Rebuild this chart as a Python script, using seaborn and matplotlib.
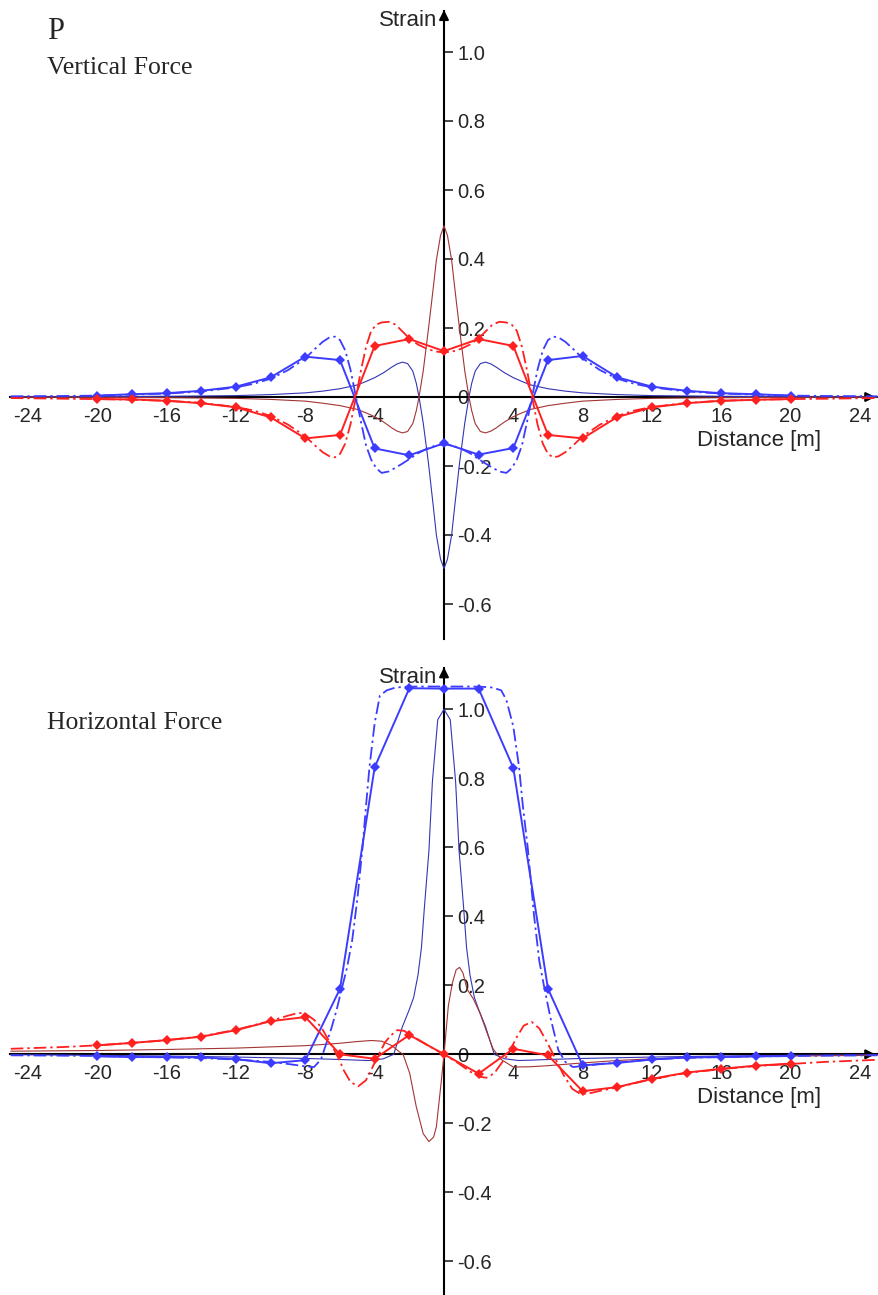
import matplotlib
matplotlib.use("Agg")
import matplotlib.pyplot as plt
import seaborn as sns

# ---------------- data ----------------
# nodes with markers, every 2 m
node_x = [-20, -18, -16, -14, -12, -10, -8, -6, -4, -2, 0, 2, 4, 6, 8, 10, 12, 14, 16, 18, 20]

# Vertical force: measured points
vert_blue_pts = [0.004, 0.008, 0.011, 0.018, 0.030, 0.057, 0.117, 0.107, -0.149, -0.169, -0.134,
                 -0.167, -0.148, 0.107, 0.119, 0.057, 0.030, 0.018, 0.011, 0.008, 0.004]
vert_red_pts = [-0.006, -0.007, -0.011, -0.018, -0.030, -0.059, -0.120, -0.110, 0.148, 0.168, 0.133,
                0.168, 0.148, -0.110, -0.120, -0.058, -0.030, -0.018, -0.011, -0.008, -0.006]

# Vertical force: dash-dot model curves
vert_dd_x = [-25, -22, -20, -18, -16, -14, -12, -11, -10, -9, -8, -7.5, -7, -6.6, -6.3, -6, -5.7, -5.4,
             -5.1, -4.8, -4.5, -4.2, -3.9, -3.6, -3.2, -2.8, -2.4, -2, -1.5, -1, -0.5, 0,
             0.5, 1, 1.5, 2, 2.4, 2.8, 3.2, 3.6, 3.9, 4.2, 4.5, 4.8, 5.1, 5.4, 5.7, 6, 6.3, 6.6,
             7, 7.5, 8, 9, 10, 11, 12, 14, 16, 18, 20, 22, 25]
vert_blue_dd = [0.002, 0.003, 0.004, 0.007, 0.010, 0.016, 0.028, 0.038, 0.053, 0.078, 0.112, 0.137,
                0.160, 0.173, 0.175, 0.165, 0.135, 0.080, 0.005, -0.070, -0.140, -0.182, -0.207,
                -0.220, -0.216, -0.205, -0.193, -0.180, -0.163, -0.150, -0.141, -0.137,
                -0.141, -0.150, -0.163, -0.180, -0.193, -0.205, -0.216, -0.220, -0.207, -0.182,
                -0.140, -0.070, 0.005, 0.080, 0.135, 0.165, 0.175, 0.173, 0.160, 0.137, 0.112,
                0.078, 0.053, 0.038, 0.028, 0.016, 0.010, 0.007, 0.004, 0.003, 0.002]
vert_red_dd = [-0.003, -0.005, -0.006, -0.008, -0.011, -0.017, -0.029, -0.039, -0.055, -0.080, -0.114,
               -0.138, -0.160, -0.172, -0.175, -0.165, -0.135, -0.080, -0.005, 0.075, 0.145, 0.192,
               0.210, 0.216, 0.218, 0.210, 0.190, 0.170, 0.152, 0.140, 0.132, 0.129,
               0.132, 0.140, 0.152, 0.170, 0.190, 0.210, 0.218, 0.216, 0.210, 0.192, 0.145, 0.075,
               -0.005, -0.080, -0.135, -0.165, -0.175, -0.172, -0.160, -0.138, -0.114, -0.080,
               -0.055, -0.039, -0.029, -0.017, -0.011, -0.008, -0.006, -0.005, -0.003]

# Vertical force: thin curves
vert_thin_x = [-25, -20, -16, -12, -10, -8, -7, -6, -5, -4.5, -4, -3.5, -3, -2.7, -2.4, -2.1, -1.8,
               -1.6, -1.44, -1.2, -0.9, -0.6, -0.44, -0.2, 0, 0.2, 0.44, 0.6, 0.9, 1.2, 1.44, 1.6,
               1.8, 2.1, 2.4, 2.7, 3, 3.5, 4, 4.5, 5, 6, 7, 8, 10, 12, 16, 20, 25]
vert_navy = [0.000, 0.001, 0.002, 0.004, 0.007, 0.012, 0.017, 0.024, 0.035, 0.045, 0.056, 0.070,
             0.087, 0.096, 0.101, 0.097, 0.075, 0.040, 0.000, -0.075, -0.190, -0.325, -0.400,
             -0.470, -0.497, -0.470, -0.400, -0.325, -0.190, -0.075, 0.000, 0.040, 0.075, 0.097,
             0.101, 0.096, 0.087, 0.070, 0.056, 0.045, 0.035, 0.024, 0.017, 0.012, 0.007, 0.004,
             0.002, 0.001, 0.000]
vert_brown = [0.000, -0.001, -0.002, -0.004, -0.007, -0.012, -0.018, -0.025, -0.036, -0.046, -0.057,
              -0.072, -0.090, -0.099, -0.104, -0.100, -0.077, -0.040, 0.000, 0.075, 0.196, 0.325,
              0.397, 0.468, 0.496, 0.468, 0.397, 0.325, 0.196, 0.075, 0.000, -0.040, -0.077,
              -0.100, -0.104, -0.099, -0.090, -0.072, -0.057, -0.046, -0.036, -0.025, -0.018,
              -0.012, -0.007, -0.004, -0.002, -0.001, 0.000]

# Horizontal force: measured points
horiz_blue_pts = [-0.006, -0.008, -0.008, -0.009, -0.014, -0.026, -0.017, 0.190, 0.832, 1.061, 1.060,
                  1.060, 0.830, 0.190, -0.032, -0.025, -0.015, -0.009, -0.008, -0.006, -0.005]
horiz_red_pts = [0.026, 0.033, 0.041, 0.051, 0.070, 0.096, 0.108, 0.000, -0.013, 0.056, 0.000,
                 -0.056, 0.016, -0.003, -0.107, -0.095, -0.071, -0.053, -0.042, -0.033, -0.027]

# Horizontal force: dash-dot model curves
horiz_blue_dd_x = [-25, -22, -20, -18, -16, -14, -12, -10, -9, -8, -7.5, -7.1, -6.8, -6.5, -6.2, -5.9,
                   -5.6, -5.3, -5.0, -4.7, -4.5, -4.3, -4.0, -3.7, -3.3, -2.8, -2.3, -1.5, 0, 1.5,
                   2.3, 2.8, 3.3, 3.6, 4.0, 4.33, 4.55, 4.83, 5.2, 5.5, 5.8, 6.13, 6.6, 7.0, 7.44,
                   8, 9, 10, 12, 14, 16, 18, 20, 22, 25]
horiz_blue_dd = [-0.003, -0.004, -0.005, -0.007, -0.009, -0.011, -0.015, -0.022, -0.028, -0.035,
                 -0.037, -0.015, 0.030, 0.075, 0.128, 0.190, 0.250, 0.330, 0.450, 0.600, 0.720,
                 0.833, 0.960, 1.040, 1.055, 1.063, 1.065, 1.066, 1.066, 1.066, 1.065, 1.063,
                 1.055, 1.027, 0.950, 0.833, 0.720, 0.600, 0.400, 0.270, 0.190, 0.109, 0.012,
                 -0.022, -0.037, -0.034, -0.028, -0.024, -0.015, -0.010, -0.008, -0.006, -0.005,
                 -0.004, -0.003]
horiz_red_dd_x = [-25, -22, -20, -18, -16, -14, -12, -10, -9, -8.4, -8, -7.5, -7.1, -6.7, -6.33, -6.0,
                  -5.8, -5.4, -4.95, -4.5, -4.2, -3.83, -3.4, -3.06, -2.7, -2.3, -2.0, -1.4, -0.8,
                  0, 0.8, 1.5, 2.07, 2.45, 2.9, 3.4, 3.7, 4.2, 4.6, 5.06, 5.5, 6.0, 6.3, 6.9, 7.4,
                  7.9, 8.5, 9, 10, 12, 14, 16, 18, 20, 22, 25]
horiz_red_dd = [0.016, 0.021, 0.026, 0.033, 0.041, 0.052, 0.071, 0.097, 0.112, 0.120, 0.118, 0.100,
                0.080, 0.045, 0.012, -0.020, -0.045, -0.080, -0.093, -0.075, -0.045, -0.007, 0.035,
                0.055, 0.070, 0.068, 0.058, 0.040, 0.022, 0.000, -0.025, -0.050, -0.065, -0.068,
                -0.055, -0.020, 0.000, 0.050, 0.083, 0.094, 0.075, 0.030, 0.000, -0.060, -0.100,
                -0.116, -0.112, -0.106, -0.096, -0.072, -0.054, -0.043, -0.034, -0.028, -0.022,
                -0.016]

# Horizontal force: thin curves
horiz_navy_x = [-25, -20, -16, -12, -10, -8, -6, -5, -4.3, -3.5, -2.9, -2.4, -2.0, -1.75, -1.5, -1.3,
                -1.14, -0.87, -0.67, -0.36, 0, 0.36, 0.67, 0.87, 1.14, 1.3, 1.5, 1.75, 2.0, 2.4,
                2.9, 3.5, 4.3, 5, 6, 8, 10, 12, 16, 20, 25]
horiz_navy = [-0.001, -0.003, -0.005, -0.008, -0.010, -0.012, -0.015, -0.017, -0.018, -0.013, 0.000,
              0.080, 0.130, 0.165, 0.230, 0.310, 0.420, 0.590, 0.790, 0.970, 1.000, 0.970, 0.790,
              0.590, 0.420, 0.310, 0.230, 0.165, 0.130, 0.080, 0.000, -0.013, -0.018, -0.017,
              -0.015, -0.012, -0.010, -0.008, -0.005, -0.003, -0.001]
horiz_brown_x = [-25, -20, -16, -12, -8, -6, -5, -4.2, -3.6, -3.0, -2.6, -2.36, -1.98, -1.6, -1.2,
                 -0.87, -0.6, -0.44, -0.15, 0, 0.25, 0.48, 0.7, 0.9, 1.1, 1.32, 1.7, 2.07, 2.5,
                 2.84, 3.3, 4.0, 5, 6, 8, 10, 12, 16, 20, 25]
horiz_brown = [0.009, 0.011, 0.014, 0.018, 0.025, 0.032, 0.037, 0.040, 0.038, 0.025, 0.008, 0.000,
               -0.055, -0.152, -0.230, -0.253, -0.240, -0.210, -0.075, 0.000, 0.140, 0.206, 0.245,
               0.252, 0.235, 0.190, 0.160, 0.120, 0.060, 0.015, -0.015, -0.037, -0.036, -0.033,
               -0.025, -0.018, -0.013, -0.008, -0.005, -0.003]

x_ticks = [-24, -20, -16, -12, -8, -4, 0, 4, 8, 12, 16, 20, 24]
y_ticks = [-0.6, -0.4, -0.2, 0.0, 0.2, 0.4, 0.6, 0.8, 1.0]

# ---------------- styling ----------------
sns.set_style("white")
plt.rcParams["font.family"] = ["Liberation Sans", "DejaVu Sans"]
plt.rcParams["axes.unicode_minus"] = False

BLUE = "#3c3cff"
RED = "#ff2020"
NAVY = "#3535b5"
BROWN = "#a33535"
DASHDOT = (0, (7, 2.2, 1.3, 2.2))

W, H = 879, 1295
SPLIT = 650
X_PER_M = 17.33
Y_PER_UNIT = 345.0
X0_PX = 444

fig = plt.figure(figsize=(W / 100, H / 100), dpi=100)


def make_panel(top_px, bot_px, zero_px):
    ax = fig.add_axes([0, 1 - bot_px / H, 1, (bot_px - top_px) / H])
    ax.set_xlim(-X0_PX / X_PER_M, (W - X0_PX) / X_PER_M)
    ax.set_ylim((zero_px - bot_px) / Y_PER_UNIT, (zero_px - top_px) / Y_PER_UNIT)
    ax.patch.set_alpha(0)
    for s in ["left", "top"]:
        ax.spines[s].set_visible(False)
    ax.spines["bottom"].set_position(("data", 0))
    ax.spines["right"].set_position(("data", 0))
    ax.spines["bottom"].set_bounds(-25.05, 25.0)
    ax.spines["right"].set_bounds(-0.70, 1.12)
    for s in ["bottom", "right"]:
        ax.spines[s].set_linewidth(1.5)
        ax.spines[s].set_color("black")
        ax.spines[s].set_zorder(1)
    ax.yaxis.tick_right()
    ax.set_xticks(x_ticks, [("" if t == 0 else str(t)) for t in x_ticks])
    ax.set_yticks(y_ticks, [("0" if t == 0 else f"{t:.1f}") for t in y_ticks])
    ax.tick_params(axis="x", direction="in", length=6.5, width=1.2, pad=7, labelsize=14.5)
    ax.tick_params(axis="y", direction="out", length=6.5, width=1.2, pad=3, labelsize=14.5)
    ax.grid(False)
    # arrow heads
    ax.annotate("", xy=(25.05, 0), xytext=(24.3, 0),
                arrowprops=dict(arrowstyle="-|>", color="black", lw=1.5, mutation_scale=14))
    ax.annotate("", xy=(0, 1.13), xytext=(0, 1.09),
                arrowprops=dict(arrowstyle="-|>", color="black", lw=1.5, mutation_scale=14))
    ax.text(-0.4, 1.075, "Strain", ha="right", va="baseline", fontsize=16)
    ax.text(14.6, -0.125, "Distance [m]", ha="left", va="center", fontsize=16)
    return ax


def draw_line(ax, x, y, color, lw, ls="-", marker=None):
    sns.lineplot(x=x, y=y, ax=ax, color=color, lw=lw, linestyle=ls, marker=marker,
                 markersize=5, markeredgewidth=0, sort=False, estimator=None, zorder=3)


ax1 = make_panel(0, SPLIT, 397)
draw_line(ax1, vert_thin_x, vert_navy, NAVY, 0.8)
draw_line(ax1, vert_thin_x, vert_brown, BROWN, 0.8)
draw_line(ax1, vert_dd_x, vert_blue_dd, BLUE, 1.3, DASHDOT)
draw_line(ax1, vert_dd_x, vert_red_dd, RED, 1.3, DASHDOT)
draw_line(ax1, node_x, vert_blue_pts, BLUE, 1.4, "-", "D")
draw_line(ax1, node_x, vert_red_pts, RED, 1.4, "-", "D")

ax2 = make_panel(SPLIT, H, 1054.3)
draw_line(ax2, horiz_navy_x, horiz_navy, NAVY, 0.8)
draw_line(ax2, horiz_brown_x, horiz_brown, BROWN, 0.8)
draw_line(ax2, horiz_blue_dd_x, horiz_blue_dd, BLUE, 1.3, DASHDOT)
draw_line(ax2, horiz_red_dd_x, horiz_red_dd, RED, 1.3, DASHDOT)
draw_line(ax2, node_x, horiz_blue_pts, BLUE, 1.4, "-", "D")
draw_line(ax2, node_x, horiz_red_pts, RED, 1.4, "-", "D")

serif = ["Liberation Serif", "DejaVu Serif"]
fig.text(46.7 / W, 1 - 39.3 / H, "P", family=serif, fontsize=22, va="baseline")
fig.text(46.7 / W, 1 - 74 / H, "Vertical Force", family=serif, fontsize=18.5, va="baseline")
fig.text(46.7 / W, 1 - 729 / H, "Horizontal Force", family=serif, fontsize=18.5, va="baseline")

fig.savefig("out.png", dpi=100)
